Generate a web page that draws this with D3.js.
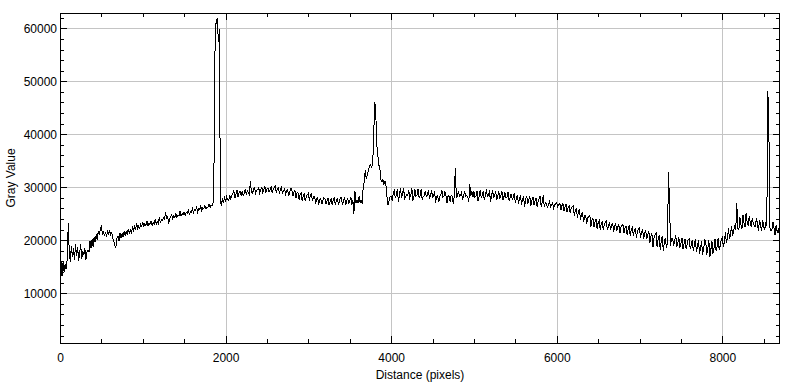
<!DOCTYPE html>
<html><head><meta charset="utf-8">
<script src="https://cdn.jsdelivr.net/npm/d3@7"></script>
<style>body{margin:0;background:#fff}svg{display:block}</style>
</head><body>
<svg id="c" width="800" height="385"></svg>
<script>
// ---- data (Distance step 12.5 px, Gray values) ----
const step = 12.5;
const grayValues = [
12600,15800,13200,16000,14000,15500,14500,16500,23200,17500,16000,19000,16800,18500,16200,19200,
17000,18800,16100,17500,19300,16500,18000,17200,18600,16300,17800,18200,17800,19800,18500,20200,
18800,20600,19600,21200,20000,21800,21000,22000,22800,21000,21800,20800,21600,20600,21900,21100,
21900,21000,21400,20300,19800,19000,18700,20400,20800,19900,21300,20400,21300,20600,21700,20900,
21800,21000,22200,21300,21900,21400,22400,21800,22600,21900,23300,22200,22700,22300,23100,22600,
23500,22500,23200,22800,23700,22700,23300,23000,23600,22800,23400,23100,23900,23000,23500,23200,
24300,23400,23900,23700,24300,24000,25300,24200,24500,23100,24100,24400,24800,24000,24600,24300,
25000,24300,24800,24600,25500,24600,25000,24900,25300,24700,25200,25100,25800,24900,25400,25300,
26000,25200,25800,25600,26200,25300,25900,25800,26400,25600,26100,26000,26600,25900,26300,26200,
26800,26200,26600,26500,27200,36000,60600,61000,62000,57500,59800,27000,26700,27800,27300,28000,
27300,28200,27600,27500,28600,27800,28400,28800,29300,28000,28600,29500,28200,28900,29300,28400,
29300,28400,28900,29700,28600,29400,29000,28600,31200,29000,28800,29600,29900,28900,29400,29600,
29900,28900,29500,30000,29000,29600,30100,29000,29700,29900,29100,29500,30200,29000,29600,29900,
30200,29000,29600,29900,28900,29500,30000,28800,29400,29700,28700,29300,29600,28400,29200,29800,
29600,28300,29100,29400,28000,28900,29000,27700,28600,28900,27500,28400,28700,27400,28300,28600,
28900,27500,28500,28700,27400,28200,28300,26900,27800,28000,26700,27600,27900,26800,27500,28000,
27900,26800,27400,28000,26600,27300,27900,26700,27500,28100,26700,27400,28000,26800,27300,28000,
28000,26600,27400,28200,26700,27300,28000,26800,27400,28200,26700,27500,25000,29200,27000,27600,
27000,28300,27100,27600,26900,30000,31000,33300,31500,32500,33000,34000,34200,33800,34200,38300,
46100,45200,38300,36500,34200,33800,31400,31000,31400,30600,31200,30400,28200,26600,27500,28300,
28300,27500,28800,29300,28100,28500,29700,27300,28400,29800,28200,28600,29900,27900,28300,28600,
28400,29400,28000,28500,29800,27400,28300,29600,28300,28500,29700,28100,28400,29600,27600,28300,
28400,29300,28200,28500,29500,28000,28300,29400,28200,28400,29200,27100,28300,28400,27200,28300,
28500,29400,28200,28300,29200,28300,27100,28400,28300,27200,28500,28300,26900,28400,33600,28100,
28300,29300,28300,28500,29000,27800,28300,29200,28300,28400,28200,27200,30600,28300,29200,28100,
29200,28100,28400,29300,27400,28300,29500,28100,28400,29300,27600,28300,29600,28200,28400,29400,
27300,28300,29400,28100,28300,29300,27700,28200,29200,28000,28300,29300,27600,28200,29000,28000,
28200,29100,27400,28100,28800,27700,28100,28900,27000,28000,28600,26800,27900,28500,26600,27800,
28200,26300,27700,28400,26900,27600,28300,26500,27500,28200,26700,27400,28000,26300,27300,27900,
28400,26300,27300,28500,26200,27200,27000,26100,26800,27300,26300,26700,27100,26100,26600,27000,
27100,26300,26700,27000,25700,26500,26900,25500,26300,26800,25300,26100,26500,25200,26000,26400,
26500,24600,25800,26000,24300,25500,25700,23800,25000,25200,23400,24600,24700,23100,24200,24500,
24700,22600,23800,24200,22500,23500,24000,22100,23300,23700,22000,23100,23600,21900,23000,23400,
23600,21900,22800,23400,22000,22700,23300,21600,22600,23200,21700,22500,23000,21300,22400,22800,
23000,21300,22300,22700,21000,22100,22800,20800,22000,22400,20900,21800,22300,20500,21600,22100,
22300,20500,21500,22100,20200,21300,21900,20300,21100,21700,19500,20800,21300,18700,20400,21000,
21300,18700,20200,21000,18200,19900,20800,17900,19800,20500,18500,19600,32800,27000,19000,20400,
20400,19000,19800,21000,18800,19500,20600,18600,19400,20500,18300,19300,20300,18400,19200,20100,
20300,18400,19100,20100,18000,19000,20300,17800,18800,20000,17500,18600,19800,17300,18500,20000,
19800,17300,18500,20000,16900,18300,19800,17500,18600,20300,17900,18800,20400,18200,19000,20100,
20500,18800,19700,21500,19500,20400,22300,20200,21300,22600,20800,21900,22600,22000,27000,22200,
22000,24400,23000,22100,24700,23200,22500,25200,23500,22700,24600,23300,22600,24200,23100,22700,
22600,24200,23000,21800,23900,22800,21700,23800,22600,22000,23500,22700,48200,41200,22400,21800,
22000,23500,22300,21000,22800,21900,21300,22500,21400
];
const distance = grayValues.map((v, i) => i * step);
const xMajorTicks = [0, 2000, 4000, 6000, 8000];
const yMajorTicks = [10000, 20000, 30000, 40000, 50000, 60000];
const xLabel = "Distance (pixels)";
const yLabel = "Gray Value";

// ---- layout ----
const L = 60, R = 780, T = 13, B = 343;
const svg = d3.select("#c");
const x = d3.scaleLinear().domain([0, 8697]).range([L, R]);
const y = d3.scaleLinear().domain([614, 62890]).range([B, T]);
const xMinor = d3.range(0, 8697, 500).filter(v => v % 2000 !== 0);
const yMinor = d3.range(2000, 62890, 2000).filter(v => v % 10000 !== 0);
const font = "Liberation Sans, Arial, sans-serif";

// grid
const g = svg.append("g");
g.selectAll(".gx").data(xMajorTicks.filter(v => v > 0)).join("line")
  .attr("x1", d => Math.round(x(d)) + 0.5).attr("x2", d => Math.round(x(d)) + 0.5)
  .attr("y1", T).attr("y2", B).attr("stroke", "#c4c4c4");
g.selectAll(".gy").data(yMajorTicks).join("line")
  .attr("y1", d => Math.round(y(d)) + 0.5).attr("y2", d => Math.round(y(d)) + 0.5)
  .attr("x1", L).attr("x2", R).attr("stroke", "#c4c4c4");

// data line
svg.append("clipPath").attr("id", "clip").append("rect")
  .attr("x", L).attr("y", T).attr("width", R - L).attr("height", B - T);
const line = d3.line().x((d, i) => x(distance[i])).y(d => y(d));
svg.append("path").datum(grayValues).attr("d", line)
  .attr("fill", "none").attr("stroke", "#000").attr("stroke-width", 1)
  .attr("shape-rendering", "crispEdges")
  .attr("clip-path", "url(#clip)");

// ticks (inward) on all four sides
function tickMarks(vals, len, axis) {
  vals.forEach(v => {
    if (axis === "x") {
      const px = Math.round(x(v)) + 0.5;
      svg.append("line").attr("x1", px).attr("x2", px).attr("y1", B).attr("y2", B - len).attr("stroke", "#000");
      svg.append("line").attr("x1", px).attr("x2", px).attr("y1", T).attr("y2", T + len).attr("stroke", "#000");
    } else {
      const py = Math.round(y(v)) + 0.5;
      svg.append("line").attr("y1", py).attr("y2", py).attr("x1", L).attr("x2", L + len).attr("stroke", "#000");
      svg.append("line").attr("y1", py).attr("y2", py).attr("x1", R).attr("x2", R - len).attr("stroke", "#000");
    }
  });
}
tickMarks(xMinor, 4, "x");
tickMarks(xMajorTicks, 7, "x");
tickMarks(yMinor, 4, "y");
tickMarks(yMajorTicks, 7, "y");

// frame
svg.append("rect").attr("x", L + 0.5).attr("y", T + 0.5).attr("width", R - L - 1).attr("height", B - T)
  .attr("fill", "none").attr("stroke", "#000");

// tick labels via axes
const xAxis = d3.axisBottom(x).tickValues(xMajorTicks).tickSize(0).tickPadding(10).tickFormat(d3.format("d"));
const gxA = svg.append("g").attr("transform", `translate(0,${B})`).call(xAxis);
const yAxis = d3.axisLeft(y).tickValues(yMajorTicks).tickSize(0).tickPadding(3).tickFormat(d3.format("d"));
const gyA = svg.append("g").attr("transform", `translate(${L},0)`).call(yAxis);
[gxA, gyA].forEach(a => {
  a.select(".domain").remove();
  a.selectAll("text").attr("font-family", font).attr("font-size", 12).attr("fill", "#000");
});

// axis titles
svg.append("text").attr("x", (L + R) / 2).attr("y", 379).attr("text-anchor", "middle")
  .attr("font-family", font).attr("font-size", 12).text(xLabel);
svg.append("text").attr("transform", `translate(15,${(T + B) / 2}) rotate(-90)`).attr("text-anchor", "middle")
  .attr("font-family", font).attr("font-size", 12).text(yLabel);
</script>
</body></html>
